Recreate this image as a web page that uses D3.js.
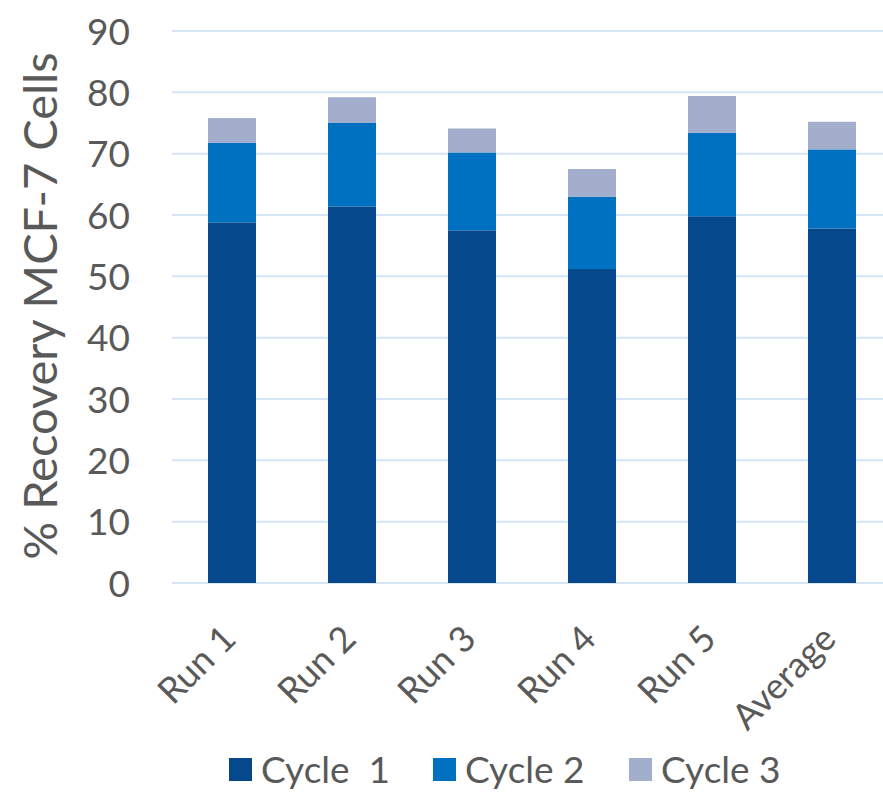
<!DOCTYPE html>
<html>
<head>
<meta charset="utf-8">
<script src="https://cdn.jsdelivr.net/npm/d3@7"></script>
<style>
  body { margin: 0; background: #fff; }
  text { font-family: Lato, "Open Sans", sans-serif; fill: #595959; }
</style>
</head>
<body>
<div id="chart"></div>
<script>
// data
const categories = ['Run 1', 'Run 2', 'Run 3', 'Run 4', 'Run 5', 'Average'];
const seriesNames = ['Cycle  1', 'Cycle 2', 'Cycle 3'];
const cycle1 = [58.8, 61.4, 57.5, 51.2, 59.8, 57.8];
const cycle2 = [13.0, 13.6, 12.7, 11.8, 13.6, 12.9];
const cycle3 = [4.0, 4.2, 3.9, 4.5, 6.0, 4.5];
const yTicks = [0, 10, 20, 30, 40, 50, 60, 70, 80, 90];
const colors = ['#05498c', '#0070c0', '#a2aecc'];

const width = 883, height = 792;
const margin = { top: 31, right: -9, bottom: 209, left: 172 };
const innerW = width - margin.left - margin.right;
const innerH = height - margin.top - margin.bottom;

const svg = d3.select('#chart')
  .append('svg')
  .attr('width', width)
  .attr('height', height);

const g = svg.append('g')
  .attr('transform', `translate(${margin.left},${margin.top})`);

const table = categories.map((c, i) => ({ cat: c, c1: cycle1[i], c2: cycle2[i], c3: cycle3[i] }));
const stack = d3.stack().keys(['c1', 'c2', 'c3']);
const layers = stack(table);

const x = d3.scaleBand().domain(categories).range([0, innerW]).paddingInner(0.6).paddingOuter(0.3);
const y = d3.scaleLinear().domain([0, 90]).range([innerH, 0]);

// gridlines
g.selectAll('.grid')
  .data(yTicks)
  .enter()
  .append('line')
  .attr('x1', 0)
  .attr('x2', innerW)
  .attr('y1', d => y(d))
  .attr('y2', d => y(d))
  .attr('stroke', '#d5e5f7')
  .attr('stroke-width', 2);

// y axis labels
const yAxis = g.append('g')
  .call(d3.axisLeft(y).tickValues(yTicks).tickSize(0).tickPadding(42));
yAxis.select('.domain').remove();
yAxis.selectAll('text')
  .style('font-size', '37px')
  .attr('fill', '#595959')
  .attr('dy', '0.36em');

// bars
g.selectAll('.layer')
  .data(layers)
  .enter()
  .append('g')
  .attr('fill', (d, i) => colors[i])
  .selectAll('rect')
  .data(d => d)
  .enter()
  .append('rect')
  .attr('x', d => x(d.data.cat))
  .attr('width', x.bandwidth())
  .attr('y', d => y(d[1]))
  .attr('height', d => y(d[0]) - y(d[1]));

// x axis labels, rotated
const xAxis = g.append('g')
  .attr('transform', `translate(0,${innerH})`)
  .call(d3.axisBottom(x).tickSize(0).tickPadding(0));
xAxis.select('.domain').remove();
xAxis.selectAll('text')
  .style('font-size', '36px')
  .attr('fill', '#595959')
  .attr('text-anchor', 'end')
  .attr('dy', 0)
  .attr('transform', 'translate(6,58) rotate(-45)');

// y axis title
svg.append('text')
  .attr('transform', `translate(57,306) rotate(-90)`)
  .attr('text-anchor', 'middle')
  .style('font-size', '47px')
  .text('% Recovery MCF-7 Cells');

// legend
const legendX = [229, 433, 629];
const legend = svg.append('g').attr('transform', 'translate(0,758)');
const items = legend.selectAll('.item')
  .data(seriesNames)
  .enter()
  .append('g')
  .attr('transform', (d, i) => `translate(${legendX[i]},0)`);
items.append('rect')
  .attr('width', 23)
  .attr('height', 23)
  .attr('fill', (d, i) => colors[i]);
items.append('text')
  .attr('x', 32)
  .attr('y', 12)
  .attr('dy', '0.36em')
  .style('font-size', '37px')
  .style('white-space', 'pre')
  .text(d => d);
</script>
</body>
</html>
